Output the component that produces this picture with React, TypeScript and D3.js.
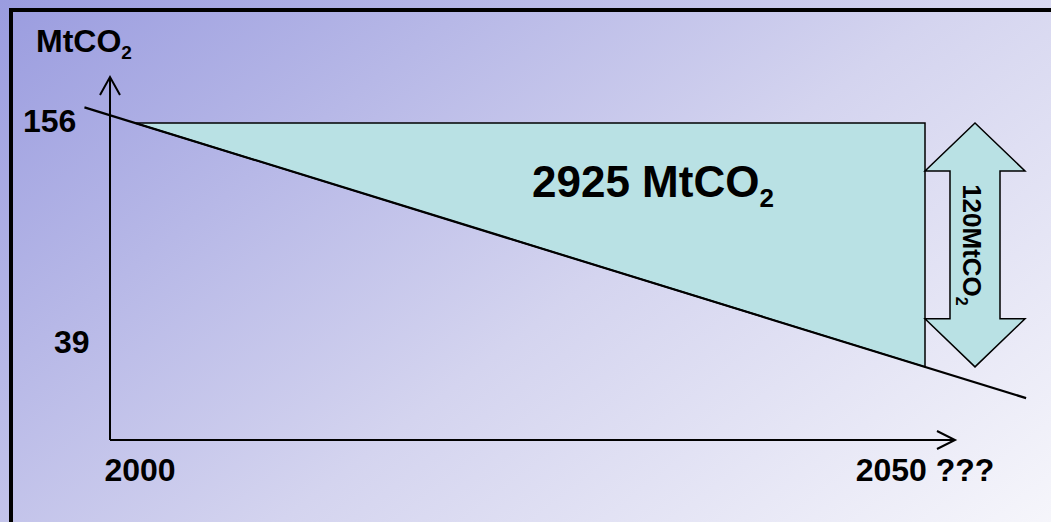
import React from "react";
import * as d3 from "d3";

// ---- data ----
const years = [2000, 2050];
const baseValue = 156;
const targetValues = [156, 36];
const trendYears = [1996.8, 2056.4];
const trendValues = [163.7, 20.6];
const yTickValues = [156, 39];
const yTickLabels = ["156", "39"];
const xTickLabels = ["2000", "2050 ???"];
const areaLabel = "2925 MtCO";
const reductionLabel = "120MtCO";
const unitLabel = "MtCO";

const W = 1051;
const H = 522;
const FONT = "'Liberation Sans', Arial, Helvetica, sans-serif";
const TEAL = "#b9e1e4";

export default function App() {
  const x = d3.scaleLinear().domain([2000, 2050]).range([135, 925]);
  const y = d3.scaleLinear().domain([0, 156]).range([440, 123]);

  const axisX = x(2000) - 25;
  const axisY = y(0);
  const yTop = 77;
  const xRight = 955;

  const tri: [number, number][] = [
    [years[0], baseValue],
    [years[1], baseValue],
    [years[1], targetValues[1]],
    [years[0], targetValues[0]],
  ];
  const triPath = d3
    .line<[number, number]>()
    .x((d) => x(d[0]))
    .y((d) => y(d[1]))(tri) + "Z";

  const trendPath = d3
    .line<number>()
    .x((d, i) => x(trendYears[i]))
    .y((d) => y(d))(trendValues);

  // double arrow
  const aTop = y(baseValue);
  const aBot = y(targetValues[1]);
  const aCx = 975;
  const headH = 48;
  const headW = 50;
  const shaftW = 25;
  const arrowPts = [
    [aCx, aTop],
    [aCx + headW, aTop + headH],
    [aCx + shaftW, aTop + headH],
    [aCx + shaftW, aBot - headH],
    [aCx + headW, aBot - headH],
    [aCx, aBot],
    [aCx - headW, aBot - headH],
    [aCx - shaftW, aBot - headH],
    [aCx - shaftW, aTop + headH],
    [aCx - headW, aTop + headH],
  ];
  const arrowPath = "M" + arrowPts.map((p) => p.join(",")).join("L") + "Z";
  const aMid = (aTop + aBot) / 2;

  const yLabelOffsets = [9, -8];
  const yLabelDx = [-87, -56];
  const xLabelOffsets = [5, 0];

  return (
    <div style={{ position: "absolute", left: 0, top: 0 }}>
      <svg width={W} height={H} style={{ display: "block" }} fontFamily={FONT}>
        <defs>
          <linearGradient id="bg" gradientUnits="userSpaceOnUse" x1={0} y1={0} x2={650} y2={840}>
            <stop offset="0" stopColor="#9a9cdf" />
            <stop offset="0.55" stopColor="#d4d4ef" />
            <stop offset="1" stopColor="#f6f6fb" />
          </linearGradient>
        </defs>
        <rect x={0} y={0} width={W} height={H} fill="url(#bg)" />
        <rect x={11} y={10} width={W + 20} height={H + 20} fill="none" stroke="#000" strokeWidth={4} />

        {/* area */}
        <path d={triPath} fill={TEAL} stroke="#000" strokeWidth={1.5} />
        {/* trend line */}
        <path d={trendPath!} fill="none" stroke="#000" strokeWidth={2.2} />

        {/* axes */}
        <line x1={axisX} y1={axisY} x2={axisX} y2={yTop} stroke="#000" strokeWidth={2} />
        <line x1={axisX} y1={axisY} x2={xRight} y2={axisY} stroke="#000" strokeWidth={2} />
        <path
          d={`M${axisX - 10},${yTop + 18}L${axisX},${yTop}L${axisX + 10},${yTop + 18}`}
          fill="none"
          stroke="#000"
          strokeWidth={2}
        />
        <path
          d={`M${xRight - 18},${axisY - 9}L${xRight},${axisY}L${xRight - 18},${axisY + 9}`}
          fill="none"
          stroke="#000"
          strokeWidth={2}
        />

        {/* double arrow */}
        <path d={arrowPath} fill={TEAL} stroke="#000" strokeWidth={1.5} strokeLinejoin="miter" />
        <text
          transform={`translate(963,${aMid}) rotate(90)`}
          textAnchor="middle"
          fontSize={26}
          fontWeight="bold"
          fill="#000"
        >
          {reductionLabel}
          <tspan fontSize={16} dy={7}>2</tspan>
        </text>

        {/* labels */}
        <text x={36} y={52} fontSize={32} fontWeight="bold">
          {unitLabel}
          <tspan fontSize={19} dy={7}>2</tspan>
        </text>
        {yTickValues.map((v, i) => (
          <text key={v} x={axisX + yLabelDx[i]} y={y(v) + yLabelOffsets[i]} fontSize={32} fontWeight="bold">
            {yTickLabels[i]}
          </text>
        ))}
        {years.map((yr, i) => (
          <text key={yr} x={x(yr) + xLabelOffsets[i]} y={481} textAnchor="middle" fontSize={32} fontWeight="bold">
            {xTickLabels[i]}
          </text>
        ))}
        <text x={532} y={197} fontSize={44} fontWeight="bold">
          {areaLabel}
          <tspan fontSize={26} dy={10}>2</tspan>
        </text>
      </svg>
    </div>
  );
}
